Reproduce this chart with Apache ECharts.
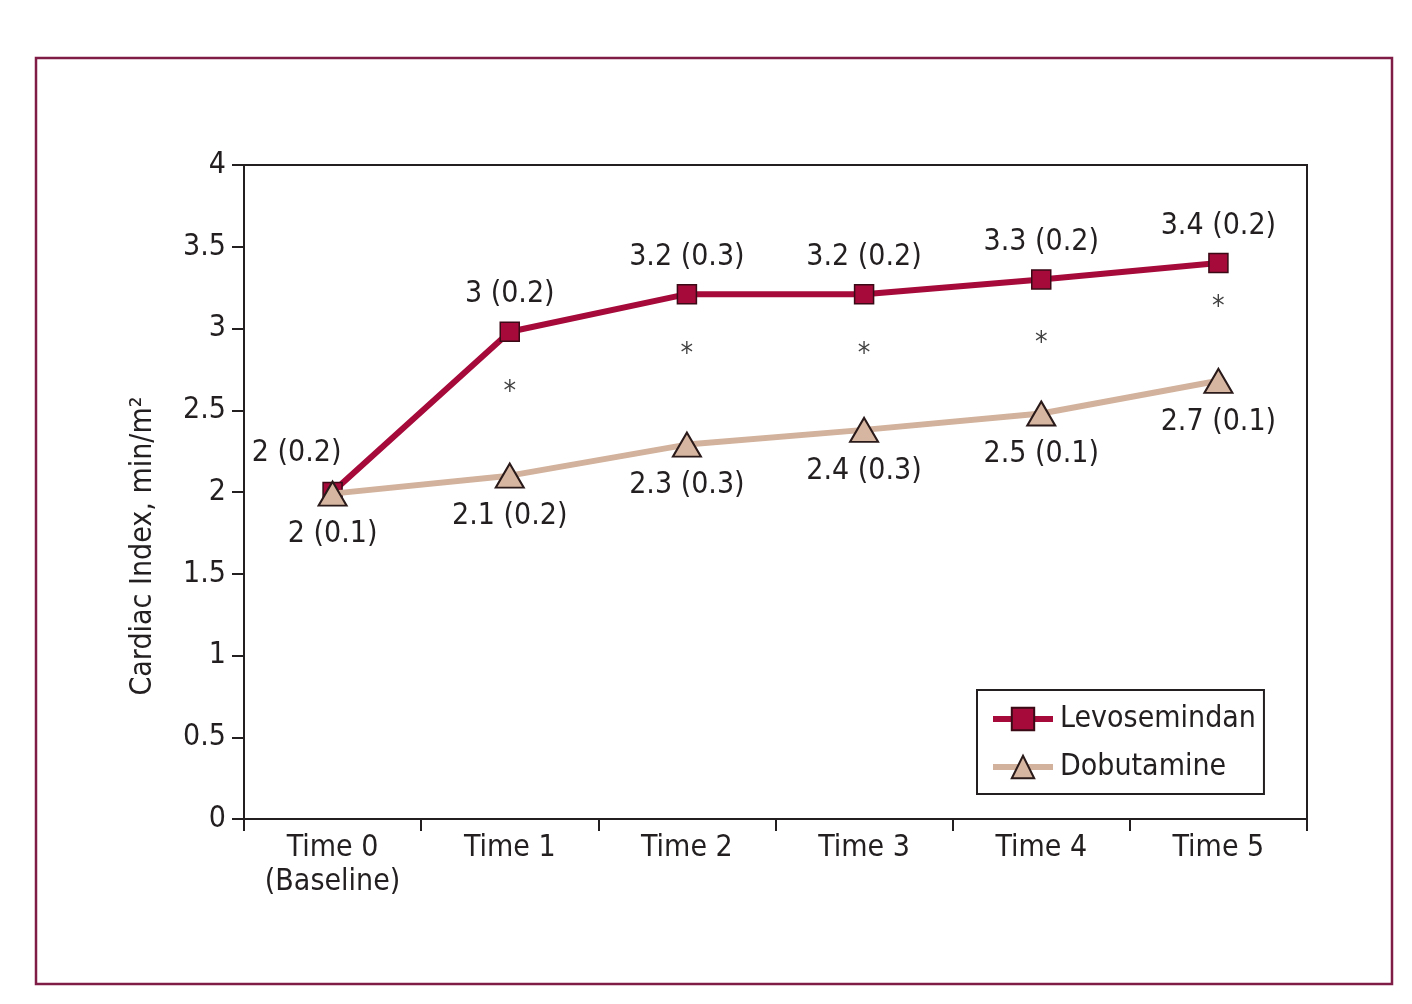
<!DOCTYPE html>
<html>
<head>
<meta charset="utf-8">
<script src="https://cdn.jsdelivr.net/npm/echarts@6/dist/echarts.min.js"></script>
<style>
  html, body { margin: 0; padding: 0; background: #ffffff; }
  #chart { width: 1412px; height: 1004px; }
</style>
</head>
<body>
<div id="chart"></div>
<script>
var categories = ['Time 0\n(Baseline)', 'Time 1', 'Time 2', 'Time 3', 'Time 4', 'Time 5'];
var levoValues = [2.0, 2.98, 3.21, 3.21, 3.30, 3.40];
var levoLabels = ['2 (0.2)', '3 (0.2)', '3.2 (0.3)', '3.2 (0.2)', '3.3 (0.2)', '3.4 (0.2)'];
var dobuValues = [1.99, 2.10, 2.29, 2.38, 2.48, 2.68];
var dobuLabels = ['2 (0.1)', '2.1 (0.2)', '2.3 (0.3)', '2.4 (0.3)', '2.5 (0.1)', '2.7 (0.1)'];
var asteriskValues = [null, 2.61, 2.84, 2.84, 2.905, 3.13];
var yTicks = [0, 0.5, 1, 1.5, 2, 2.5, 3, 3.5, 4];

var FONT = '"DejaVu Sans Condensed", "Liberation Sans", Arial, sans-serif';
var FS = 30;
var TXT = '#231f20';
var LEVO = '#a50a3a';
var DOBU_LINE = '#d2b29c';
var DOBU_FILL = '#d6b6a0';

var chart = echarts.init(document.getElementById('chart'), null, { renderer: 'canvas' });

var levoData = levoValues.map(function (v, i) {
  var item = { value: v };
  if (i === 0) {
    item.label = { offset: [-36, -2] };
  }
  return item;
});

var option = {
  backgroundColor: '#ffffff',
  animation: false,
  textStyle: { fontFamily: FONT, color: TXT },
  grid: {
    left: 244, top: 165, right: 105, bottom: 185,
    show: true, borderColor: '#231f20', borderWidth: 2, backgroundColor: 'transparent'
  },
  legend: {
    orient: 'vertical',
    left: 977, top: 690,
    padding: [14, 8, 12, 13],
    itemGap: 18,
    itemWidth: 60,
    itemHeight: 28,
    borderColor: '#231f20',
    borderWidth: 2,
    backgroundColor: '#ffffff',
    textStyle: { fontFamily: FONT, fontSize: FS, color: TXT, padding: [0, 0, 0, 2] },
    data: [
      { name: 'Levosemindan', lineStyle: { width: 6, color: LEVO } },
      { name: 'Dobutamine', lineStyle: { width: 6, color: DOBU_LINE } }
    ]
  },
  xAxis: {
    type: 'category',
    data: categories,
    boundaryGap: true,
    axisLine: { lineStyle: { color: '#231f20', width: 2 } },
    axisTick: { show: true, inside: false, length: 12, interval: 0, lineStyle: { color: '#231f20', width: 2 } },
    axisLabel: { fontFamily: FONT, fontSize: FS, color: TXT, margin: 12, lineHeight: 34, interval: 0 },
    splitLine: { show: false }
  },
  yAxis: {
    type: 'value',
    min: 0, max: 4, interval: 0.5,
    axisLine: { show: true, lineStyle: { color: '#231f20', width: 2 } },
    axisTick: { show: true, inside: false, length: 12, lineStyle: { color: '#231f20', width: 2 } },
    axisLabel: {
      fontFamily: FONT, fontSize: FS, color: TXT, margin: 18,
      formatter: function (v) { return yTicks.indexOf(v) >= 0 ? String(v) : ''; }
    },
    splitLine: { show: false }
  },
  graphic: [
    {
      type: 'rect', z: -10, silent: true,
      shape: { x: 36, y: 58, width: 1356, height: 926 },
      style: { fill: 'none', stroke: '#7f1d46', lineWidth: 2.5 }
    },
    {
      type: 'text', x: 143, y: 546, rotation: Math.PI / 2, silent: true,
      style: {
        text: 'Cardiac Index, min/m²',
        fontFamily: FONT, fontSize: FS, fill: TXT,
        align: 'center', verticalAlign: 'middle'
      }
    }
  ],
  series: [
    {
      name: 'Levosemindan',
      type: 'line',
      data: levoData,
      symbol: 'rect',
      symbolSize: 19,
      lineStyle: { color: LEVO, width: 6 },
      itemStyle: { color: LEVO, borderColor: '#3a0a16', borderWidth: 1.5 },
      label: {
        show: true, position: 'top', distance: 12,
        fontFamily: FONT, fontSize: FS, color: TXT,
        formatter: function (p) { return levoLabels[p.dataIndex]; }
      },
      z: 3
    },
    {
      name: 'Dobutamine',
      type: 'line',
      data: dobuValues,
      symbol: 'triangle',
      symbolSize: [28, 24],
      lineStyle: { color: DOBU_LINE, width: 6 },
      itemStyle: { color: DOBU_FILL, borderColor: '#2a1a1a', borderWidth: 2 },
      label: {
        show: true, position: 'bottom', distance: 13,
        fontFamily: FONT, fontSize: FS, color: TXT,
        formatter: function (p) { return dobuLabels[p.dataIndex]; }
      },
      z: 4
    },
    {
      name: 'sig',
      type: 'scatter',
      data: asteriskValues,
      symbolSize: 1,
      itemStyle: { color: 'transparent' },
      label: {
        show: true, position: 'inside',
        fontFamily: FONT, fontSize: 28, color: '#111111',
        formatter: '*'
      },
      silent: true,
      z: 5
    }
  ]
};

chart.setOption(option);
</script>
</body>
</html>
